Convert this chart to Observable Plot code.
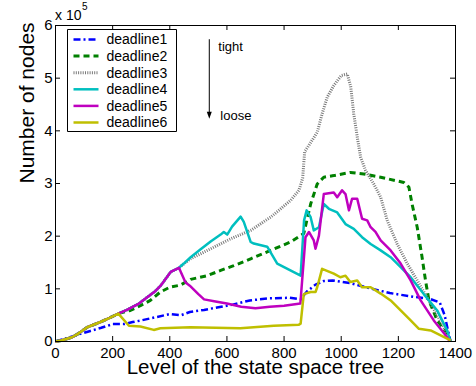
<!DOCTYPE html>
<html>
<head>
<meta charset="utf-8">
<script src="https://cdn.jsdelivr.net/npm/d3@7"></script>
<script src="https://cdn.jsdelivr.net/npm/@observablehq/plot@0.6"></script>
<style>
  html, body { margin: 0; padding: 0; background: #fff; }
  #chart svg { display: block; }
</style>
</head>
<body>
<div id="chart"></div>
<script>
// ---- data (y values in units of 1e5 nodes) ----
const seriesNames = ["deadline1", "deadline2", "deadline3", "deadline4", "deadline5", "deadline6"];
const xTicks = [0, 200, 400, 600, 800, 1000, 1200, 1400];
const yTicks = [0, 1, 2, 3, 4, 5, 6];

// shared start (all but deadline1)
const baseX = [0, 20, 58, 80, 111, 157, 190, 220];
const baseY = [0, 0.02, 0.08, 0.15, 0.27, 0.37, 0.45, 0.53];
// shared middle (deadline3, 4, 5)
const midX = [250, 292, 321, 350, 368, 403, 432];
const midY = [0.60, 0.72, 0.84, 0.96, 1.06, 1.32, 1.40];

const d1X = [0, 50, 90, 122, 160, 200, 240, 270, 300, 350, 400, 440, 470, 520, 570, 620, 680, 750, 820, 858, 880, 910, 940, 970, 1030, 1100, 1170, 1240, 1310, 1345, 1362, 1372, 1382];
const d1Y = [0, 0.08, 0.15, 0.20, 0.26, 0.33, 0.33, 0.37, 0.40, 0.46, 0.52, 0.50, 0.56, 0.60, 0.65, 0.70, 0.78, 0.82, 0.83, 0.80, 0.95, 1.08, 1.15, 1.16, 1.11, 1.01, 0.92, 0.86, 0.81, 0.74, 0.50, 0.25, 0.02];

const d2X = [262, 297, 332, 367, 400, 437, 473, 531, 578, 624, 683, 753, 823, 869, 893, 916, 939, 974, 1032, 1079, 1138, 1219, 1237, 1248, 1266, 1283, 1295, 1307, 1336, 1371, 1382];
const d2Y = [0.59, 0.68, 0.78, 0.94, 1.03, 1.07, 1.18, 1.25, 1.35, 1.44, 1.57, 1.73, 1.89, 2.05, 2.61, 2.99, 3.12, 3.15, 3.21, 3.18, 3.12, 3.02, 2.93, 2.61, 2.17, 1.60, 1.16, 0.78, 0.40, 0.15, 0];

const d3X = [472, 543, 613, 683, 753, 823, 852, 865, 872, 898, 916, 933, 951, 974, 1000, 1021, 1033, 1044, 1058, 1068, 1085, 1114, 1138, 1161, 1196, 1231, 1266, 1313, 1359, 1382];
const d3Y = [1.57, 1.76, 1.95, 2.11, 2.36, 2.68, 2.87, 3.10, 3.60, 3.82, 3.97, 4.32, 4.64, 4.86, 5.05, 5.08, 4.85, 4.32, 3.82, 3.50, 3.25, 2.99, 2.74, 2.30, 1.85, 1.48, 1.16, 0.72, 0.27, 0];

const d4X = [449, 473, 508, 543, 578, 589, 601, 618, 648, 659, 683, 694, 741, 776, 858, 870, 879, 893, 904, 922, 939, 957, 986, 1015, 1044, 1073, 1103, 1138, 1173, 1208, 1243, 1289, 1336, 1371, 1382];
const d4Y = [1.48, 1.60, 1.75, 1.90, 2.03, 2.08, 2.03, 2.18, 2.37, 2.27, 1.89, 1.86, 1.80, 1.48, 1.25, 2.30, 2.49, 2.36, 2.11, 2.17, 2.61, 2.52, 2.45, 2.23, 2.14, 1.98, 1.85, 1.73, 1.60, 1.41, 1.22, 0.90, 0.59, 0.21, 0];

const d5X = [455, 470, 500, 520, 560, 600, 650, 700, 750, 800, 857, 875, 887, 904, 910, 922, 939, 974, 986, 1003, 1015, 1027, 1038, 1056, 1073, 1091, 1103, 1120, 1138, 1173, 1208, 1243, 1278, 1324, 1371, 1380];
const d5Y = [1.12, 1.06, 0.90, 0.80, 0.76, 0.72, 0.66, 0.63, 0.66, 0.68, 0.72, 1.98, 2.08, 1.92, 1.76, 2.01, 2.80, 2.83, 2.74, 2.87, 2.80, 2.49, 2.71, 2.71, 2.33, 2.30, 2.17, 2.08, 1.92, 1.73, 1.48, 1.16, 0.78, 0.40, 0.08, 0];

const d6X = [257, 297, 344, 367, 472, 647, 764, 852, 858, 869, 893, 910, 916, 933, 974, 997, 1015, 1032, 1056, 1073, 1103, 1138, 1173, 1208, 1243, 1272, 1313, 1383];
const d6Y = [0.30, 0.285, 0.22, 0.25, 0.27, 0.25, 0.30, 0.32, 0.34, 0.90, 0.94, 0.94, 1.03, 1.38, 1.29, 1.22, 1.25, 1.13, 1.16, 1.03, 1.03, 0.91, 0.78, 0.59, 0.40, 0.24, 0.21, 0.02];

// ---- assemble ----
const seriesX = [d1X, baseX.concat(d2X), baseX.concat(midX, d3X), baseX.concat(midX, d4X), baseX.concat(midX, d5X), baseX.concat(d6X)];
const seriesY = [d1Y, baseY.concat(d2Y), baseY.concat(midY, d3Y), baseY.concat(midY, d4Y), baseY.concat(midY, d5Y), baseY.concat(d6Y)];

const styles = [
  {stroke: "#0000ff", strokeWidth: 2.5, strokeDasharray: "7,3,2,3"},
  {stroke: "#008000", strokeWidth: 3, strokeDasharray: "6,4"},
  {stroke: "#7a7a7a", strokeWidth: 3, strokeDasharray: "1,1.3"},
  {stroke: "#00bfbf", strokeWidth: 2.5, strokeDasharray: null},
  {stroke: "#bf00bf", strokeWidth: 2.5, strokeDasharray: null},
  {stroke: "#bfbf00", strokeWidth: 2.5, strokeDasharray: null}
];

const font = "'Liberation Sans', Arial, sans-serif";

const lineMarks = seriesNames.map((name, i) => {
  const rows = seriesX[i].map((x, j) => ({x, y: seriesY[i][j]}));
  return Plot.line(rows, {x: "x", y: "y", ...styles[i], strokeLinejoin: "round", strokeLinecap: "butt"});
});

// annotation (data space)
const arrowX = 540, arrowTop = 5.73, arrowTip = 4.22;

function overlay(index, scales, values, dims) {
  const g = d3.create("svg:g")
    .attr("font-family", font)
    .attr("text-anchor", "start")
    .attr("fill", "black");
  const ml = dims.marginLeft, mt = dims.marginTop;
  // exponent label
  g.append("text").attr("x", ml).attr("y", mt - 5).attr("font-size", 14).text("x 10");
  g.append("text").attr("x", ml + 27).attr("y", mt - 15).attr("font-size", 10).text("5");
  // arrow
  const ax = scales.x(arrowX), ay1 = scales.y(arrowTop), ay2 = scales.y(arrowTip);
  g.append("path").attr("d", `M${ax},${ay1}V${ay2 - 6}`)
    .attr("fill", "none").attr("stroke", "black").attr("stroke-width", 1);
  g.append("path").attr("d", `M${ax - 2.5},${ay2 - 7}L${ax + 2.5},${ay2 - 7}L${ax},${ay2}Z`).attr("fill", "black");
  g.append("text").attr("x", ax + 9).attr("y", ay1 + 8).attr("font-size", 13).attr("dy", "0.32em").text("tight");
  g.append("text").attr("x", ax + 11).attr("y", ay2 - 3).attr("font-size", 13).attr("dy", "0.32em").text("loose");
  // legend
  const lx = ml + 12.5, ly = mt + 4.5, lw = 109, lh = 102;
  g.append("path")
    .attr("d", `M${lx},${ly}H${lx + lw}V${ly + lh}H${lx}Z`)
    .attr("fill", "white").attr("stroke", "black").attr("stroke-width", 1);
  seriesNames.forEach((name, i) => {
    const cy = ly + 10 + i * 16.6;
    const st = styles[i];
    g.append("path").attr("d", `M${lx + 6},${cy}H${lx + 31}`)
      .attr("fill", "none")
      .attr("stroke", st.stroke).attr("stroke-width", st.strokeWidth)
      .attr("stroke-dasharray", st.strokeDasharray);
    g.append("text").attr("x", lx + 39).attr("y", cy).attr("dy", "0.35em").attr("font-size", 14).text(name);
  });
  return g.node();
}

const chart = Plot.plot({
  width: 476,
  height: 386,
  marginLeft: 55,
  marginRight: 21,
  marginTop: 25,
  marginBottom: 45,
  style: {fontFamily: font, fontSize: "15px", color: "black", background: "white", overflow: "visible"},
  x: {domain: [0, 1400], label: null},
  y: {domain: [0, 6], label: null},
  marks: [
    Plot.axisX(xTicks, {tickSize: 0, tickPadding: 5.5, fontSize: 15, tickFormat: d => String(d)}),
    Plot.axisY(yTicks, {tickSize: 0, tickPadding: 3, fontSize: 15, tickFormat: d => String(d)}),
    ...lineMarks,
    Plot.tickX(xTicks, {x: d => d, insetTop: 311, stroke: "black"}),
    Plot.tickX(xTicks, {x: d => d, insetBottom: 311, stroke: "black"}),
    Plot.tickY(yTicks, {y: d => d, insetRight: 395, stroke: "black"}),
    Plot.tickY(yTicks, {y: d => d, insetLeft: 395, stroke: "black"}),
    Plot.frame({stroke: "black", strokeWidth: 1}),
    Plot.text(["Level of the state space tree"], {frameAnchor: "bottom", dy: 32, fontSize: 20.5}),
    Plot.text(["Number of nodes"], {frameAnchor: "left", dx: -28, rotate: -90, fontSize: 21}),
    overlay
  ]
});
document.getElementById("chart").appendChild(chart);
</script>
</body>
</html>
